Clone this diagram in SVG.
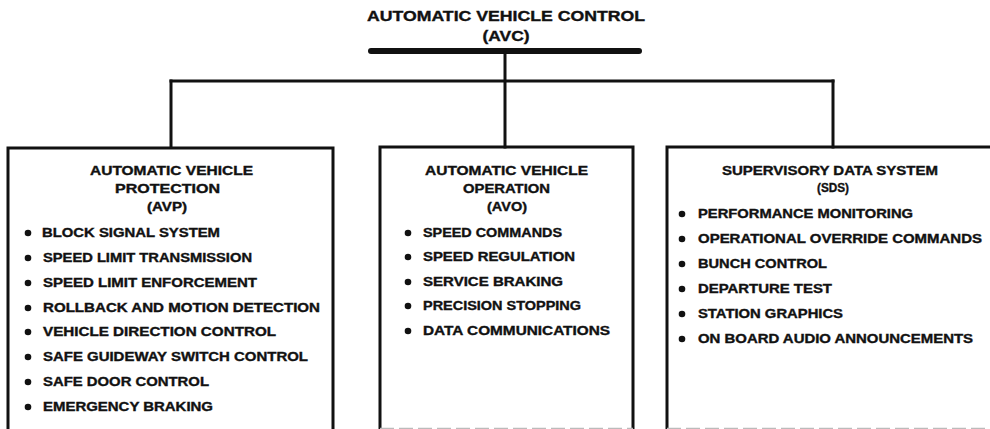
<svg xmlns="http://www.w3.org/2000/svg" width="990" height="429" viewBox="0 0 990 429">
  <style>
    .title { font-family: "Liberation Sans", Arial, sans-serif; font-weight: bold; font-size: 14px; fill: #111; stroke: #111; stroke-width: 0.35; text-anchor: middle; }
    .head { font-family: "Liberation Sans", Arial, sans-serif; font-weight: bold; font-size: 12px; fill: #111; stroke: #111; stroke-width: 0.35; text-anchor: middle; }
    .item { font-family: "Liberation Sans", Arial, sans-serif; font-weight: bold; font-size: 12px; fill: #111; stroke: #111; stroke-width: 0.35; }
    .box { fill: none; stroke: #111; stroke-width: 3; }
    .edge { fill: none; stroke: #111; stroke-width: 3; stroke-linecap: square; }
    .dot { fill: #111; }
  </style>
  <rect width="990" height="429" fill="#fff"/>

  <!-- root heading and bus bar -->
  <g id="avc">
    <text class="title" x="506" y="21" textLength="278" lengthAdjust="spacingAndGlyphs">AUTOMATIC VEHICLE CONTROL</text>
    <text class="title" x="506" y="41" textLength="47" lengthAdjust="spacingAndGlyphs">(AVC)</text>
    <line x1="371" y1="51" x2="639" y2="51" stroke="#111" stroke-width="6" stroke-linecap="round"/>
  </g>

  <!-- tree connectors -->
  <g id="connectors">
    <line class="edge" x1="505" y1="53" x2="505" y2="147"/>
    <line class="edge" x1="171" y1="81" x2="833" y2="81"/>
    <line class="edge" x1="171" y1="81" x2="171" y2="147"/>
    <line class="edge" x1="833" y1="81" x2="833" y2="147"/>
  </g>

  <!-- Automatic Vehicle Protection -->
  <g id="avp">
    <path class="box" d="M8,432 V148 H333 V432"/>
    <text class="head" x="171.5" y="175" textLength="163" lengthAdjust="spacingAndGlyphs">AUTOMATIC VEHICLE</text>
    <text class="head" x="167.5" y="193" textLength="105" lengthAdjust="spacingAndGlyphs">PROTECTION</text>
    <text class="head" x="167" y="211" textLength="40" lengthAdjust="spacingAndGlyphs">(AVP)</text>
    <circle class="dot" cx="28" cy="233" r="3.3"/>
    <circle class="dot" cx="28" cy="258" r="3.3"/>
    <circle class="dot" cx="28" cy="283" r="3.3"/>
    <circle class="dot" cx="28" cy="308" r="3.3"/>
    <circle class="dot" cx="28" cy="332" r="3.3"/>
    <circle class="dot" cx="28" cy="357" r="3.3"/>
    <circle class="dot" cx="28" cy="382" r="3.3"/>
    <circle class="dot" cx="28" cy="407" r="3.3"/>
    <text class="item" x="42" y="237" textLength="178" lengthAdjust="spacingAndGlyphs">BLOCK SIGNAL SYSTEM</text>
    <text class="item" x="43" y="262" textLength="209" lengthAdjust="spacingAndGlyphs">SPEED LIMIT TRANSMISSION</text>
    <text class="item" x="43" y="287" textLength="214" lengthAdjust="spacingAndGlyphs">SPEED LIMIT ENFORCEMENT</text>
    <text class="item" x="43" y="312" textLength="277" lengthAdjust="spacingAndGlyphs">ROLLBACK AND MOTION DETECTION</text>
    <text class="item" x="43" y="336" textLength="233" lengthAdjust="spacingAndGlyphs">VEHICLE DIRECTION CONTROL</text>
    <text class="item" x="43" y="361" textLength="265" lengthAdjust="spacingAndGlyphs">SAFE GUIDEWAY SWITCH CONTROL</text>
    <text class="item" x="43" y="386" textLength="166" lengthAdjust="spacingAndGlyphs">SAFE DOOR CONTROL</text>
    <text class="item" x="43" y="411" textLength="170" lengthAdjust="spacingAndGlyphs">EMERGENCY BRAKING</text>
  </g>

  <!-- Automatic Vehicle Operation -->
  <g id="avo">
    <path class="box" d="M380,429.5 V147 H633 V429.5"/>
    <line x1="380" y1="428.5" x2="633" y2="428.5" stroke="#bbb" stroke-width="1.5" stroke-dasharray="14 5"/>
    <text class="head" x="506.5" y="175" textLength="163" lengthAdjust="spacingAndGlyphs">AUTOMATIC VEHICLE</text>
    <text class="head" x="506.5" y="193" textLength="87" lengthAdjust="spacingAndGlyphs">OPERATION</text>
    <text class="head" x="507" y="211" textLength="40" lengthAdjust="spacingAndGlyphs">(AVO)</text>
    <circle class="dot" cx="408" cy="233" r="3.3"/>
    <circle class="dot" cx="408" cy="257" r="3.3"/>
    <circle class="dot" cx="408" cy="282" r="3.3"/>
    <circle class="dot" cx="408" cy="306" r="3.3"/>
    <circle class="dot" cx="408" cy="331" r="3.3"/>
    <text class="item" x="423" y="237" textLength="139" lengthAdjust="spacingAndGlyphs">SPEED COMMANDS</text>
    <text class="item" x="423" y="261" textLength="152" lengthAdjust="spacingAndGlyphs">SPEED REGULATION</text>
    <text class="item" x="423" y="286" textLength="140" lengthAdjust="spacingAndGlyphs">SERVICE BRAKING</text>
    <text class="item" x="423" y="310" textLength="158" lengthAdjust="spacingAndGlyphs">PRECISION STOPPING</text>
    <text class="item" x="423" y="335" textLength="187" lengthAdjust="spacingAndGlyphs">DATA COMMUNICATIONS</text>
  </g>

  <!-- Supervisory Data System -->
  <g id="sds">
    <path class="box" d="M667,429.5 V147 H1000"/>
    <line x1="667" y1="428.5" x2="990" y2="428.5" stroke="#bbb" stroke-width="1.5" stroke-dasharray="14 5"/>
    <text class="head" x="830" y="175" textLength="216" lengthAdjust="spacingAndGlyphs">SUPERVISORY DATA SYSTEM</text>
    <text class="head" x="833" y="192" textLength="32" lengthAdjust="spacingAndGlyphs">(SDS)</text>
    <circle class="dot" cx="682" cy="214" r="3.3"/>
    <circle class="dot" cx="682" cy="239" r="3.3"/>
    <circle class="dot" cx="682" cy="264" r="3.3"/>
    <circle class="dot" cx="682" cy="289" r="3.3"/>
    <circle class="dot" cx="682" cy="314" r="3.3"/>
    <circle class="dot" cx="682" cy="339" r="3.3"/>
    <text class="item" x="698" y="218" textLength="215" lengthAdjust="spacingAndGlyphs">PERFORMANCE MONITORING</text>
    <text class="item" x="698" y="243" textLength="284" lengthAdjust="spacingAndGlyphs">OPERATIONAL OVERRIDE COMMANDS</text>
    <text class="item" x="698" y="268" textLength="129" lengthAdjust="spacingAndGlyphs">BUNCH CONTROL</text>
    <text class="item" x="698" y="293" textLength="134" lengthAdjust="spacingAndGlyphs">DEPARTURE TEST</text>
    <text class="item" x="698" y="318" textLength="145" lengthAdjust="spacingAndGlyphs">STATION GRAPHICS</text>
    <text class="item" x="698" y="343" textLength="275" lengthAdjust="spacingAndGlyphs">ON BOARD AUDIO ANNOUNCEMENTS</text>
  </g>
</svg>
